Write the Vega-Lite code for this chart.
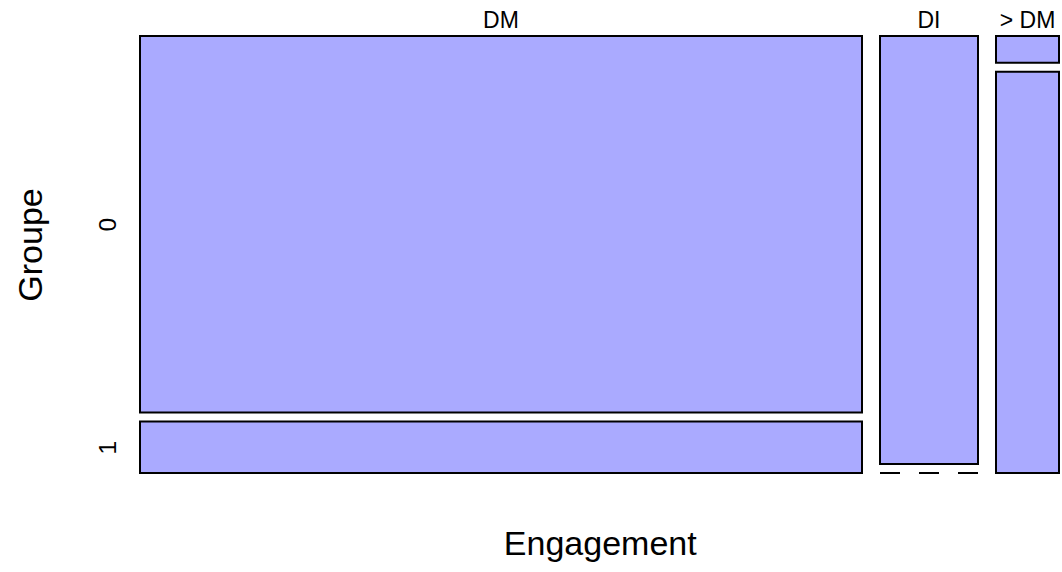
{
  "$schema": "https://vega.github.io/schema/vega-lite/v6.json",
  "padding": {"left": 14, "top": 10, "right": 0, "bottom": 0},
  "background": "white",
  "config": {
    "view": {"stroke": null},
    "font": "Liberation Sans",
    "title": {"font": "Liberation Sans", "fontWeight": "normal", "color": "black"}
  },
  "data": {
    "values": [
      {"Engagement": "DM", "Groupe": "0", "count": 161},
      {"Engagement": "DM", "Groupe": "1", "count": 22},
      {"Engagement": "DI", "Groupe": "0", "count": 25},
      {"Engagement": "DI", "Groupe": "1", "count": 0},
      {"Engagement": "> DM", "Groupe": "0", "count": 1},
      {"Engagement": "> DM", "Groupe": "1", "count": 15}
    ]
  },
  "title": {"text": "Engagement", "orient": "bottom", "anchor": "middle", "fontSize": 34, "baseline": "alphabetic", "offset": 81, "dx": 63},
  "spacing": 16,
  "hconcat": [
    {
      "width": 722, "height": 428,
      "title": {"text": "DM", "fontSize": 23, "baseline": "alphabetic", "offset": -16},
      "transform": [
        {"filter": "datum.Engagement == 'DM'"},
        {"stack": "count", "groupby": ["Engagement"], "sort": [{"field": "Groupe", "order": "ascending"}], "offset": "normalize", "as": ["y0", "y1"]}
      ],
      "layer": [
        {
          "transform": [{"filter": "datum.Groupe == '0' && datum.count > 0"}],
          "mark": {"type": "rect", "fill": "#AAAAFF", "stroke": "black", "strokeWidth": 2},
          "encoding": {
            "y": {"field": "y0", "type": "quantitative", "scale": {"domain": [0, 1], "reverse": true, "nice": false},
              "axis": {"title": "Groupe", "values": [0.4399, 0.961], "labelExpr": "datum.value < 0.7 ? '0' : '1'",
                "ticks": false, "tickSize": 0, "domain": false, "grid": false,
                "labelAngle": -90, "labelAlign": "center", "labelBaseline": "alphabetic", "labelPadding": 25,
                "labelFontSize": 24.5, "labelColor": "black", "labelFont": "Liberation Sans",
                "titleFontSize": 34, "titleFontWeight": "normal", "titleColor": "black", "titleFont": "Liberation Sans",
                "titleAngle": -90, "titleAlign": "center", "titleBaseline": "alphabetic", "titleX": -98.5, "titleY": 208.5}},
            "y2": {"field": "y1"}
          }
        },
        {
          "transform": [{"filter": "datum.Groupe == '1' && datum.count > 0"}],
          "mark": {"type": "rect", "fill": "#AAAAFF", "stroke": "black", "strokeWidth": 2, "yOffset": 9, "y2Offset": 9},
          "encoding": {"y": {"field": "y0", "type": "quantitative"}, "y2": {"field": "y1"}}
        },
        {
          "transform": [{"filter": "datum.count == 0"}],
          "mark": {"type": "rule", "stroke": "black", "strokeWidth": 2, "strokeDash": [20, 19], "yOffset": 9},
          "encoding": {"y": {"field": "y0", "type": "quantitative"}}
        }
      ]
    },
    {
      "width": 98, "height": 428,
      "title": {"text": "DI", "fontSize": 23, "baseline": "alphabetic", "offset": -16},
      "transform": [
        {"filter": "datum.Engagement == 'DI'"},
        {"stack": "count", "groupby": ["Engagement"], "sort": [{"field": "Groupe", "order": "ascending"}], "offset": "normalize", "as": ["y0", "y1"]}
      ],
      "layer": [
        {
          "transform": [{"filter": "datum.Groupe == '0' && datum.count > 0"}],
          "mark": {"type": "rect", "fill": "#AAAAFF", "stroke": "black", "strokeWidth": 2},
          "encoding": {
            "y": {"field": "y0", "type": "quantitative", "scale": {"domain": [0, 1], "reverse": true, "nice": false}, "axis": null},
            "y2": {"field": "y1"}
          }
        },
        {
          "transform": [{"filter": "datum.Groupe == '1' && datum.count > 0"}],
          "mark": {"type": "rect", "fill": "#AAAAFF", "stroke": "black", "strokeWidth": 2, "yOffset": 9, "y2Offset": 9},
          "encoding": {"y": {"field": "y0", "type": "quantitative"}, "y2": {"field": "y1"}}
        },
        {
          "transform": [{"filter": "datum.count == 0"}],
          "mark": {"type": "rule", "stroke": "black", "strokeWidth": 2, "strokeDash": [20, 19], "yOffset": 9},
          "encoding": {"y": {"field": "y0", "type": "quantitative"}}
        }
      ]
    },
    {
      "width": 63, "height": 428,
      "title": {"text": "> DM", "fontSize": 23, "baseline": "alphabetic", "offset": -16},
      "transform": [
        {"filter": "datum.Engagement == '> DM'"},
        {"stack": "count", "groupby": ["Engagement"], "sort": [{"field": "Groupe", "order": "ascending"}], "offset": "normalize", "as": ["y0", "y1"]}
      ],
      "layer": [
        {
          "transform": [{"filter": "datum.Groupe == '0' && datum.count > 0"}],
          "mark": {"type": "rect", "fill": "#AAAAFF", "stroke": "black", "strokeWidth": 2},
          "encoding": {
            "y": {"field": "y0", "type": "quantitative", "scale": {"domain": [0, 1], "reverse": true, "nice": false}, "axis": null},
            "y2": {"field": "y1"}
          }
        },
        {
          "transform": [{"filter": "datum.Groupe == '1' && datum.count > 0"}],
          "mark": {"type": "rect", "fill": "#AAAAFF", "stroke": "black", "strokeWidth": 2, "yOffset": 9, "y2Offset": 9},
          "encoding": {"y": {"field": "y0", "type": "quantitative"}, "y2": {"field": "y1"}}
        },
        {
          "transform": [{"filter": "datum.count == 0"}],
          "mark": {"type": "rule", "stroke": "black", "strokeWidth": 2, "strokeDash": [20, 19], "yOffset": 9},
          "encoding": {"y": {"field": "y0", "type": "quantitative"}}
        }
      ]
    }
  ]
}
